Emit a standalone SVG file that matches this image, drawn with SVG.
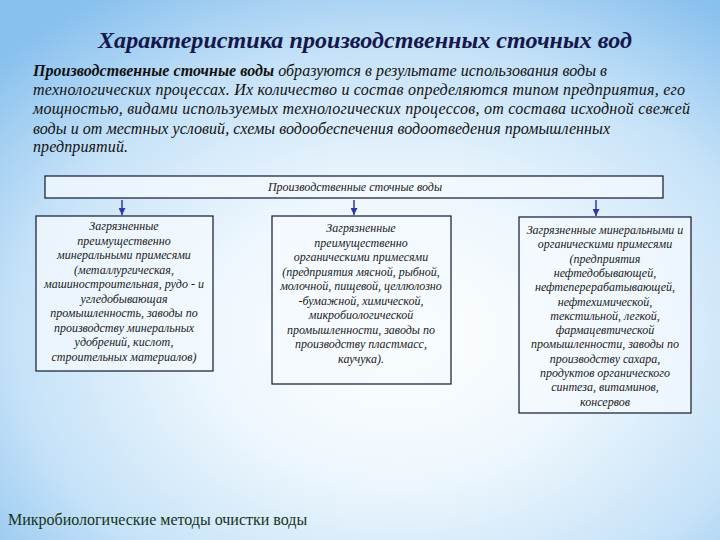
<svg xmlns="http://www.w3.org/2000/svg" width="720" height="540" viewBox="0 0 720 540">
<defs>
<radialGradient id="bg" cx="0.55" cy="0.62" r="0.75" fx="0.55" fy="0.62">
<stop offset="0" stop-color="#ffffff"/>
<stop offset="0.35" stop-color="#eef7fd"/>
<stop offset="0.7" stop-color="#c6e2f8"/>
<stop offset="1" stop-color="#88c0ee"/>
</radialGradient>
<marker id="ah" viewBox="0 0 10 10" refX="10" refY="5" markerWidth="7" markerHeight="7" orient="auto" markerUnits="userSpaceOnUse">
<path d="M0,0 L10,5 L0,10 Z" fill="#2b3aa6"/>
</marker>
<style>
.title{font-family:"Liberation Serif",serif;font-style:italic;font-weight:bold;font-size:23px;fill:#15184a}
.para{font-family:"Liberation Serif",serif;font-style:italic;font-size:16px;fill:#111}
.box{fill:#f4f9fe;fill-opacity:0.75;stroke:#101830;stroke-width:1.2}
.bt{font-family:"Liberation Serif",serif;font-style:italic;font-size:12px;fill:#1a1a22;text-anchor:middle}
.foot{font-family:"Liberation Serif",serif;font-size:16px;fill:#143418}
.arr{stroke:#2b3aa6;stroke-width:1.5;fill:none}
</style>
</defs>
<rect x="0" y="0" width="720" height="540" fill="url(#bg)"/>
<text class="title" x="365" y="48" text-anchor="middle" textLength="534" lengthAdjust="spacingAndGlyphs">Характеристика производственных сточных вод</text>
<g id="paragraph">
<text class="para" x="33" y="76" textLength="574" lengthAdjust="spacing"><tspan font-weight="bold">Производственные сточные воды</tspan> образуются в результате использования воды в</text>
<text class="para" x="33" y="95" textLength="652" lengthAdjust="spacing">технологических процессах. Их количество и состав определяются типом предприятия, его</text>
<text class="para" x="33" y="114" textLength="657" lengthAdjust="spacing">мощностью, видами используемых технологических процессов, от состава исходной свежей</text>
<text class="para" x="33" y="134" textLength="577" lengthAdjust="spacing">воды и от местных условий, схемы водообеспечения водоотведения промышленных</text>
<text class="para" x="33" y="152" textLength="95" lengthAdjust="spacing">предприятий.</text>
</g>
<g id="top">
<rect class="box" x="45" y="176" width="618" height="22"/>
<text class="bt" x="355" y="191">Производственные сточные воды</text>
</g>
<g id="connectors">
<line class="arr" x1="122" y1="200" x2="122" y2="215" marker-end="url(#ah)"/>
<line class="arr" x1="354" y1="200" x2="354" y2="215" marker-end="url(#ah)"/>
<line class="arr" x1="596" y1="200" x2="596" y2="216" marker-end="url(#ah)"/>
</g>
<g id="box1">
<rect class="box" x="36" y="216" width="177" height="155"/>
<text class="bt" x="124" y="230">Загрязненные</text>
<text class="bt" x="124" y="244.5">преимущественно</text>
<text class="bt" x="124" y="259">минеральными примесями</text>
<text class="bt" x="124" y="273.5">(металлургическая,</text>
<text class="bt" x="124" y="288">машиностроительная, рудо - и</text>
<text class="bt" x="124" y="302.5">угледобывающая</text>
<text class="bt" x="124" y="317">промышленность, заводы по</text>
<text class="bt" x="124" y="331.5">производству минеральных</text>
<text class="bt" x="124" y="346">удобрений, кислот,</text>
<text class="bt" x="124" y="360.5">строительных материалов)</text>
</g>
<g id="box2">
<rect class="box" x="272" y="216" width="179" height="168"/>
<text class="bt" x="361" y="232">Загрязненные</text>
<text class="bt" x="361" y="246.5">преимущественно</text>
<text class="bt" x="361" y="261">органическими примесями</text>
<text class="bt" x="361" y="275.5">(предприятия мясной, рыбной,</text>
<text class="bt" x="361" y="290">молочной, пищевой, целлюлозно</text>
<text class="bt" x="361" y="304.5">-бумажной, химической,</text>
<text class="bt" x="361" y="319">микробиологической</text>
<text class="bt" x="361" y="333.5">промышленности, заводы по</text>
<text class="bt" x="361" y="348">производству пластмасс,</text>
<text class="bt" x="361" y="362.5">каучука).</text>
</g>
<g id="box3">
<rect class="box" x="519" y="217" width="172" height="196"/>
<text class="bt" x="605" y="234">Загрязненные минеральными и</text>
<text class="bt" x="605" y="248.3">органическими примесями</text>
<text class="bt" x="605" y="262.6">(предприятия</text>
<text class="bt" x="605" y="276.9">нефтедобывающей,</text>
<text class="bt" x="605" y="291.2">нефтеперерабатывающей,</text>
<text class="bt" x="605" y="305.5">нефтехимической,</text>
<text class="bt" x="605" y="319.8">текстильной, легкой,</text>
<text class="bt" x="605" y="334.1">фармацевтической</text>
<text class="bt" x="605" y="348.4">промышленности, заводы по</text>
<text class="bt" x="605" y="362.7">производству сахара,</text>
<text class="bt" x="605" y="377">продуктов органического</text>
<text class="bt" x="605" y="391.3">синтеза, витаминов,</text>
<text class="bt" x="605" y="405.6">консервов</text>
</g>
<text class="foot" x="8" y="525">Микробиологические методы очистки воды</text>
</svg>
